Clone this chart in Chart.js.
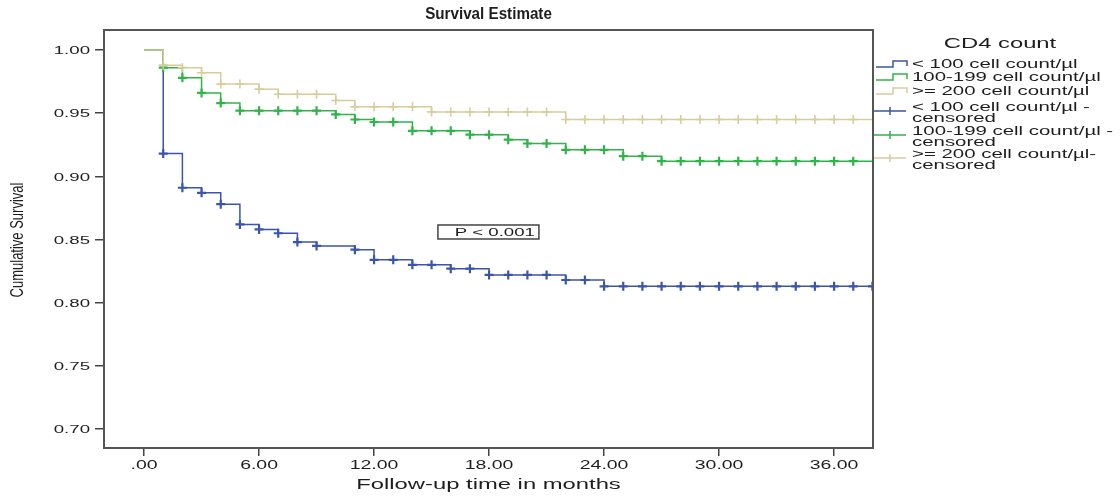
<!DOCTYPE html>
<html>
<head>
<meta charset="utf-8">
<title>Survival Estimate</title>
<script src="https://cdn.jsdelivr.net/npm/chart.js@4.4.1/dist/chart.umd.min.js"></script>
<style>
  html, body { margin: 0; padding: 0; background: #fff; }
  #graph-area { position: relative; width: 1120px; height: 497px; }
</style>
</head>
<body>
<div id="graph-area"><canvas id="myChart"></canvas></div>
<script>
// Kaplan-Meier steps: month of each drop and survival right after it
var lowTimes  = [0, 1, 2, 3, 4, 5, 6, 7, 8, 9, 11, 12, 14, 16, 18, 22, 24, 38];
var lowSurv   = [1.000, 0.918, 0.891, 0.887, 0.878, 0.862, 0.858, 0.855, 0.848, 0.845, 0.842, 0.834, 0.830, 0.827, 0.822, 0.818, 0.813, 0.813];
var midTimes  = [0, 1, 2, 3, 4, 5, 10, 11, 12, 14, 17, 19, 20, 22, 25, 27, 38];
var midSurv   = [1.000, 0.986, 0.978, 0.966, 0.958, 0.952, 0.949, 0.945, 0.943, 0.936, 0.933, 0.929, 0.926, 0.921, 0.916, 0.912, 0.912];
var highTimes = [0, 1, 2, 3, 4, 6, 7, 10, 11, 15, 22, 38];
var highSurv  = [1.000, 0.988, 0.986, 0.982, 0.973, 0.969, 0.965, 0.960, 0.955, 0.951, 0.945, 0.945];

// months with censored cases
var lowCensored  = [1, 2, 3, 4, 5, 6, 7, 8, 9, 11, 12, 13, 14, 15, 16, 17, 18, 19, 20, 21, 22, 23, 24, 25, 26, 27, 28, 29, 30, 31, 32, 33, 34, 35, 36, 37, 38];
var midCensored  = [1, 2, 3, 4, 5, 6, 7, 8, 9, 10, 11, 12, 13, 14, 15, 16, 17, 18, 19, 20, 21, 22, 23, 24, 25, 26, 27, 28, 29, 30, 31, 32, 33, 34, 35, 36, 37];
var highCensored = [1, 2, 3, 4, 5, 6, 7, 8, 9, 10, 11, 12, 13, 14, 15, 16, 17, 18, 19, 20, 21, 22, 23, 24, 25, 26, 27, 28, 29, 30, 31, 32, 33, 34, 35, 36, 37];

var groupLabels = ['< 100 cell count/\u00b5l', '100-199 cell count/\u00b5l', '>= 200 cell count/\u00b5l'];
var censoredLabels = [
    ['< 100 cell count/\u00b5l -', 'censored'],
    ['100-199 cell count/\u00b5l -', 'censored'],
    ['>= 200 cell count/\u00b5l-', 'censored']
];
var groupColors = ['#3a55aa', '#2fb44a', '#d6cd9b'];

var xTicks = [0, 6, 12, 18, 24, 30, 36];
var xTickLabels = ['.00', '6.00', '12.00', '18.00', '24.00', '30.00', '36.00'];
var yTicks = [0.70, 0.75, 0.80, 0.85, 0.90, 0.95, 1.00];
var yTickLabels = ['0.70', '0.75', '0.80', '0.85', '0.90', '0.95', '1.00'];

var pValue = { text: 'P < 0.001', x: 17.94, y: 0.856 };

// build {x,y} points for the step curves
function stepPoints(times, surv) {
    var pts = [];
    for (let i = 0; i < times.length; i++) {
        pts.push({ x: times[i], y: surv[i] });
    }
    return pts;
}

// censor marks sit on the curve at that month
function censorPoints(censored, times, surv) {
    var pts = [];
    for (let c of censored) {
        var s = surv[0];
        for (let i = 0; i < times.length; i++) {
            if (times[i] <= c) s = surv[i];
        }
        pts.push({ x: c, y: s });
    }
    return pts;
}

// text in the source picture is stretched sideways
var STRETCH = 1.7;
function drawText(ctx, text, x, y, font, align, sx) {
    ctx.save();
    ctx.translate(x, y);
    ctx.scale(sx, 1);
    ctx.font = font;
    ctx.fillStyle = '#1e1e1e';
    ctx.textAlign = align;
    ctx.textBaseline = 'middle';
    ctx.fillText(text, 0, 0);
    ctx.restore();
}

var decor = {
    id: 'decor',
    afterDraw: function(chart) {
        var ctx = chart.ctx;
        var area = chart.chartArea;
        var xs = chart.scales.x, ys = chart.scales.y;

        // frame
        ctx.save();
        ctx.strokeStyle = '#555';
        ctx.lineWidth = 2;
        ctx.strokeRect(area.left, area.top, area.right - area.left, area.bottom - area.top);
        ctx.restore();

        // tick labels
        for (let i = 0; i < yTicks.length; i++) {
            drawText(ctx, yTickLabels[i], area.left - 14, ys.getPixelForValue(yTicks[i]) + 1, '11.5px Arial', 'right', 1.62);
        }
        for (let i = 0; i < xTicks.length; i++) {
            drawText(ctx, xTickLabels[i], xs.getPixelForValue(xTicks[i]), area.bottom + 18, '12px Arial', 'center', 1.62);
        }

        // titles
        drawText(ctx, 'Survival Estimate', (area.left + area.right) / 2, 15, 'bold 16px Arial', 'center', 0.95);
        drawText(ctx, 'Follow-up time in months', (area.left + area.right) / 2, 485, '14px Arial', 'center', STRETCH);
        ctx.save();
        ctx.translate(18, 240);
        ctx.scale(1.45, 1);
        ctx.rotate(-Math.PI / 2);
        ctx.font = '13px Arial';
        ctx.fillStyle = '#1e1e1e';
        ctx.textAlign = 'center';
        ctx.textBaseline = 'middle';
        ctx.fillText('Cumulative Survival', 0, 0);
        ctx.restore();

        // p-value box
        var px = xs.getPixelForValue(pValue.x), py = ys.getPixelForValue(pValue.y);
        ctx.save();
        ctx.strokeStyle = '#444';
        ctx.lineWidth = 1.5;
        ctx.strokeRect(px - 50, py - 7, 101, 14);
        ctx.restore();
        drawText(ctx, pValue.text, px + 47, py + 1, '11.5px Arial', 'right', 1.62);

        // legend
        var lx = area.right;
        drawText(ctx, 'CD4 count', 1000, 44, '14px Arial', 'center', STRETCH);
        var rowY = [64, 77, 91];
        for (let i = 0; i < 3; i++) {
            var y = rowY[i];
            ctx.save();
            ctx.strokeStyle = groupColors[i];
            ctx.lineWidth = 1.5;
            ctx.beginPath();
            ctx.moveTo(lx + 3, y + 3);
            ctx.lineTo(lx + 20, y + 3);
            ctx.lineTo(lx + 20, y - 3);
            ctx.lineTo(lx + 34, y - 3);
            ctx.lineTo(lx + 34, y + 2);
            ctx.stroke();
            ctx.restore();
            drawText(ctx, groupLabels[i], lx + 39, y + 1, '12px Arial', 'left', STRETCH);
        }
        var cenY = [107, 131, 154];
        for (let i = 0; i < 3; i++) {
            var y0 = cenY[i];
            ctx.save();
            ctx.strokeStyle = groupColors[i];
            ctx.lineWidth = 1.5;
            ctx.beginPath();
            ctx.moveTo(lx + 1, y0 + 4);
            ctx.lineTo(lx + 33, y0 + 4);
            ctx.moveTo(lx + 17, y0);
            ctx.lineTo(lx + 17, y0 + 8);
            ctx.moveTo(lx + 13, y0 + 4);
            ctx.lineTo(lx + 21, y0 + 4);
            ctx.stroke();
            ctx.restore();
            drawText(ctx, censoredLabels[i][0], lx + 39, y0 + 1, '12px Arial', 'left', STRETCH);
            drawText(ctx, censoredLabels[i][1], lx + 39, y0 + 12, '12px Arial', 'left', STRETCH);
        }
    }
};

var curves = [[lowTimes, lowSurv, lowCensored], [midTimes, midSurv, midCensored], [highTimes, highSurv, highCensored]];
var datasets = [];
// draw the lightest group first so blue and green sit on top
for (let i = 2; i >= 0; i--) {
    datasets.push({
        label: groupLabels[i],
        data: stepPoints(curves[i][0], curves[i][1]),
        showLine: true,
        stepped: 'before',
        borderColor: groupColors[i],
        backgroundColor: groupColors[i],
        borderWidth: 1.5,
        pointRadius: 0
    });
    datasets.push({
        label: censoredLabels[i].join(' '),
        data: censorPoints(curves[i][2], curves[i][0], curves[i][1]),
        showLine: false,
        pointStyle: 'cross',
        pointRadius: 4.5,
        borderColor: groupColors[i],
        borderWidth: i == 2 ? 1.6 : 2.2
    });
}

var ctx = document.getElementById('myChart').getContext('2d');
new Chart(ctx, {
    type: 'scatter',
    data: { datasets: datasets },
    options: {
        responsive: true,
        maintainAspectRatio: false,
        animation: false,
        layout: { padding: { left: 0, right: 247, top: 30, bottom: 0 } },
        scales: {
            x: {
                type: 'linear',
                min: -2.09,
                max: 38.03,
                afterBuildTicks: function(axis) { axis.ticks = xTicks.map(v => ({ value: v })); },
                afterFit: function(scale) { scale.height = 49; },
                ticks: { display: false },
                grid: { drawOnChartArea: false, drawTicks: true, tickLength: 8, color: '#444', lineWidth: 1.5 },
                border: { display: false }
            },
            y: {
                type: 'linear',
                min: 0.6851,
                max: 1.0158,
                afterBuildTicks: function(axis) { axis.ticks = yTicks.map(v => ({ value: v })); },
                afterFit: function(scale) { scale.width = 104; },
                ticks: { display: false },
                grid: { drawOnChartArea: false, drawTicks: true, tickLength: 9, color: '#444', lineWidth: 1.5 },
                border: { display: false }
            }
        },
        plugins: {
            legend: { display: false },
            title: { display: false },
            tooltip: { enabled: false }
        }
    },
    plugins: [decor]
});
</script>
</body>
</html>
